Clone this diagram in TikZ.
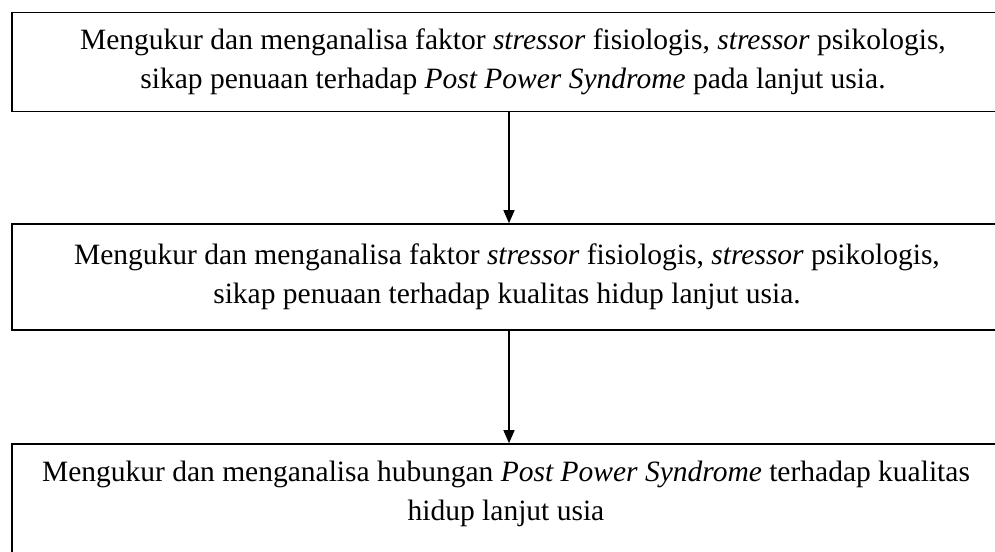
\documentclass[tikz,border=0pt]{standalone}
\usepackage{fontspec}
\setmainfont{Liberation Serif}
\usetikzlibrary{arrows.meta}
\tikzset{
	stagebox/.style={draw, line width=1.6pt, align=center, inner sep=0pt, font=\fontsize{29.5}{39}\selectfont},
	flowarrow/.style={line width=1.3pt, -{Triangle[width=11pt,length=13pt]}}
}
\begin{document}
\begin{tikzpicture}[x=1pt,y=1pt]
		\clip (0,0) rectangle (995,-551);
		\useasboundingbox (0,0) rectangle (995,-551);
		\node[stagebox, minimum width=1002pt, minimum height=99pt] (stage1) at (513,-62) {Mengukur dan menganalisa faktor \textit{stressor} fisiologis, \textit{stressor} psikologis,\\ sikap penuaan terhadap \textit{Post Power Syndrome} pada lanjut usia.};
		\node[stagebox, minimum width=990pt, minimum height=106pt] (stage2) at (507,-277) {Mengukur dan menganalisa faktor \textit{stressor} fisiologis, \textit{stressor} psikologis,\\ sikap penuaan terhadap kualitas hidup lanjut usia.};
		\node[stagebox, minimum width=988pt, minimum height=116pt, text depth=22pt] (stage3) at (506,-502) {Mengukur dan menganalisa hubungan \textit{Post Power Syndrome} terhadap kualitas\\ hidup lanjut usia};
		\coordinate (axis) at (509,0);
		\draw[flowarrow] (stage1.south -| axis) -- (stage2.north -| axis);
		\draw[flowarrow] (stage2.south -| axis) -- (stage3.north -| axis);
	\end{tikzpicture}
\end{document}
